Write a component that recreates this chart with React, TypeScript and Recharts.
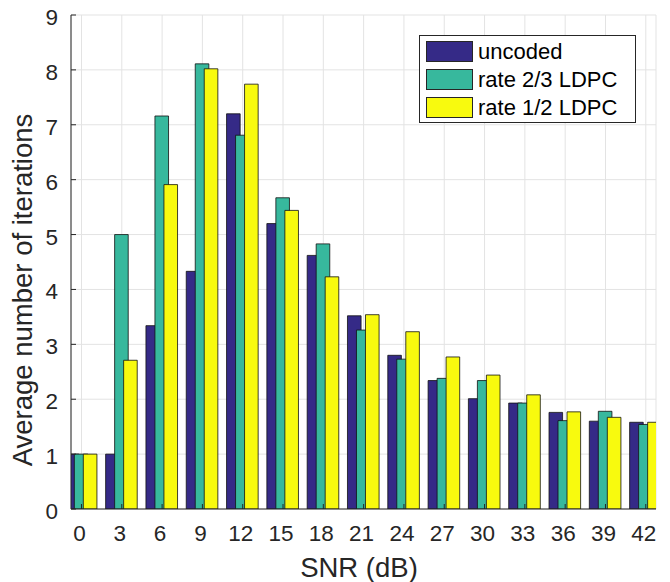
import React from "react";
import { BarChart, Bar, XAxis, YAxis, CartesianGrid, Legend } from "recharts";

const snr = [0, 3, 6, 9, 12, 15, 18, 21, 24, 27, 30, 33, 36, 39, 42];
const uncoded = [1.0, 1.0, 3.34, 4.33, 7.2, 5.2, 4.62, 3.52, 2.8, 2.34, 2.01, 1.93, 1.76, 1.6, 1.58];
const rate23 = [1.0, 5.0, 7.16, 8.11, 6.81, 5.67, 4.83, 3.26, 2.73, 2.38, 2.34, 1.93, 1.61, 1.78, 1.54];
const rate12 = [1.0, 2.71, 5.91, 8.02, 7.74, 5.44, 4.23, 3.54, 3.23, 2.77, 2.44, 2.08, 1.77, 1.67, 1.58];
const yTicks = [0, 1, 2, 3, 4, 5, 6, 7, 8, 9];
const seriesNames = ["uncoded", "rate 2/3 LDPC", "rate 1/2 LDPC"];

const data = snr.map((s, i) => ({
  snr: s,
  uncoded: uncoded[i],
  rate23: rate23[i],
  rate12: rate12[i],
}));

const FONT = '"Liberation Sans", Arial, Helvetica, sans-serif';
const INK = "#262626";

const YTitle = () => (
  <text
    x={22}
    y={290}
    transform="rotate(-90 22 290)"
    textAnchor="middle"
    dominantBaseline="central"
    fontFamily={FONT}
    fontSize={27.5}
    fill={INK}
  >
    Average number of iterations
  </text>
);

const XTitle = () => (
  <text x={359} y={577} textAnchor="middle" fontFamily={FONT} fontSize={27.5} fill={INK}>
    SNR (dB)
  </text>
);

const renderLegend = (props: any) => {
  // keep the series order, not alphabetical
  const payload = [...(props.payload || [])].sort(
    (a: any, b: any) => seriesNames.indexOf(a.value) - seriesNames.indexOf(b.value)
  );
  return (
    <div
      style={{
        position: "relative",
        width: 217,
        height: 88,
        boxSizing: "border-box",
        border: `1px solid ${INK}`,
        background: "#fff",
        fontFamily: FONT,
        fontSize: 22,
        color: "#000",
      }}
    >
      {payload.map((p: any, i: number) => (
        <div key={i} style={{ position: "absolute", left: 6, top: 5 + i * 28, height: 21, display: "flex", alignItems: "center" }}>
          <span
            style={{
              display: "inline-block",
              width: 47,
              height: 21,
              boxSizing: "border-box",
              background: p.color,
              border: `1px solid ${INK}`,
            }}
          />
          <span style={{ marginLeft: 5, lineHeight: "21px", whiteSpace: "nowrap" }}>{p.value}</span>
        </div>
      ))}
    </div>
  );
};

export default function App() {
  const tickStyle = { fontSize: 22.5, fontFamily: FONT, fill: INK };
  return (
    <div>
      <style>{`body{margin:0}`}</style>
      <BarChart
        width={670}
        height={582}
        data={data}
        margin={{ top: 15, right: 14, bottom: 13, left: 0 }}
        barSize={13.6}
        barGap={-4.6}
      >
        <CartesianGrid stroke="#e3e3e3" strokeWidth={1} />
        <XAxis
          dataKey="snr"
          type="number"
          domain={[-0.78, 42.76]}
          ticks={snr}
          allowDataOverflow
          height={60}
          tickSize={-5}
          tickMargin={21}
          tick={{ ...tickStyle, dx: -2 }}
          axisLine={{ stroke: INK }}
          tickLine={{ stroke: INK }}
          label={<XTitle />}
        />
        <XAxis
          xAxisId="top"
          orientation="top"
          dataKey="snr"
          type="number"
          domain={[-0.78, 42.76]}
          ticks={snr}
          allowDataOverflow
          height={0}
          tickSize={-5}
          tick={false}
          axisLine={{ stroke: INK }}
          tickLine={{ stroke: INK }}
        />
        <YAxis
          domain={[0, 9]}
          ticks={yTicks}
          allowDataOverflow
          width={71}
          tickSize={-5}
          tickMargin={18}
          tick={{ ...tickStyle, dy: 2 }}
          axisLine={{ stroke: INK }}
          tickLine={{ stroke: INK }}
          label={<YTitle />}
        />
        <YAxis
          yAxisId="right"
          orientation="right"
          domain={[0, 9]}
          ticks={yTicks}
          allowDataOverflow
          width={0}
          tickSize={-5}
          tick={false}
          axisLine={{ stroke: INK }}
          tickLine={{ stroke: INK }}
        />
        <Legend
          layout="vertical"
          align="center"
          verticalAlign="middle"
          wrapperStyle={{ left: 419, top: 35, width: 217, height: 88 }}
          content={renderLegend}
        />
        <Bar dataKey="uncoded" name={seriesNames[0]} fill="#352a87" stroke="#111" strokeWidth={0.8} isAnimationActive={false} />
        <Bar dataKey="rate23" name={seriesNames[1]} fill="#37b89d" stroke="#111" strokeWidth={0.8} isAnimationActive={false} />
        <Bar dataKey="rate12" name={seriesNames[2]} fill="#f8fa0e" stroke="#111" strokeWidth={0.8} isAnimationActive={false} />
      </BarChart>
    </div>
  );
}
